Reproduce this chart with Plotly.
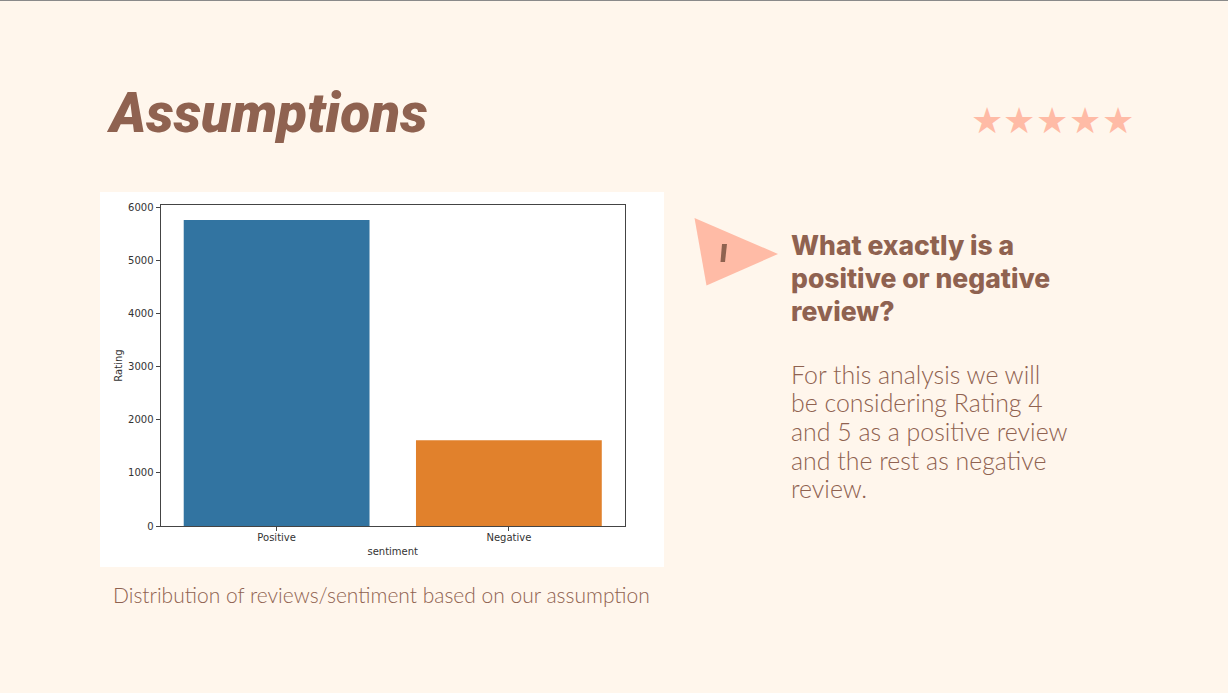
import plotly.graph_objects as go

W, H = 1228, 693
BG = "#FFF6EC"
BROWN = "#8F6250"
PEACH = "#FFBBA6"

categories = ["Positive", "Negative"]
values = [5760, 1615]
bar_colors = ["#3274A1", "#E1812C"]
y_ticks = [0, 1000, 2000, 3000, 4000, 5000, 6000]
y_max = 6040

title_text = "Assumptions"
stars_text = ["★", "★", "★", "★", "★"]
star_px = [987, 1019, 1052, 1085, 1118]
heading_lines = ["What exactly is a", "positive or negative", "review?"]
body_lines = ["For this analysis we will", "be considering Rating 4", "and 5 as a positive review",
              "and the rest as negative", "review."]
caption_text = "Distribution of reviews/sentiment based on our assumption"


def px(x):
    return x / W


def py(y):
    return 1 - y / H


fig = go.Figure(go.Bar(x=categories, y=values, width=0.8, marker=dict(color=bar_colors, line=dict(width=0))))


def label(x, y, text, size, color=BROWN, family="Lato", anchor="left", weight=400, style="normal"):
    fig.add_annotation(x=px(x), y=py(y), xref="paper", yref="paper", text=text, showarrow=False,
                       xanchor=anchor, yanchor="middle",
                       font=dict(size=size, color=color, family=family, weight=weight, style=style))


fig.add_shape(type="rect", xref="paper", yref="paper", x0=px(100), x1=px(664), y0=py(567), y1=py(192),
              fillcolor="white", line_width=0, layer="below")
fig.add_shape(type="line", xref="paper", yref="paper", x0=0, x1=1, y0=py(0.5), y1=py(0.5),
              line=dict(color="#8A8A8A", width=1))
fig.add_shape(type="path", xref="paper", yref="paper",
              path=f"M {px(694.5)} {py(218)} L {px(778)} {py(254)} L {px(706.5)} {py(285.5)} Z",
              fillcolor=PEACH, line_width=0)
fig.add_shape(type="path", xref="paper", yref="paper",
              path=f"M {px(722)} {py(244)} L {px(727)} {py(244)} L {px(725)} {py(262)} L {px(720.5)} {py(262)} Z",
              fillcolor=BROWN, line_width=0)

label(104, 113, title_text, 55, family="Roboto", weight=900, style="italic")
for x, s in zip(star_px, stars_text):
    label(x, 120, s, 36, color=PEACH, family="DejaVu Sans", anchor="center")
for i, line in enumerate(heading_lines):
    label(788.5, 245 + i * 33, line, 26.5, family="Inter", weight=800)
for i, line in enumerate(body_lines):
    label(788.5, 373.5 + i * 28.7, line, 24.9, family="Lato", weight=300)
label(110.5, 594, caption_text, 21, family="Lato", weight=300)

axis_font = dict(family="DejaVu Sans", size=10, color="#333333")
fig.update_layout(
    width=W, height=H, autosize=False, margin=dict(l=0, r=0, t=0, b=0, autoexpand=False),
    paper_bgcolor=BG, plot_bgcolor="white", showlegend=False,
    xaxis=dict(domain=[px(160.5), px(625)], type="category", range=[-0.5, 1.5], showgrid=False, zeroline=False,
               ticks="outside", ticklen=4, tickcolor="#444444", tickwidth=1, tickfont=axis_font,
               ticklabelstandoff=-2,
               showline=True, linecolor="#444444", linewidth=1, mirror=True,
               title=dict(text="sentiment", font=axis_font, standoff=5)),
    yaxis=dict(domain=[py(526), py(205)], range=[0, y_max], tickvals=y_ticks, showgrid=False, zeroline=False,
               ticks="outside", ticklen=4, tickcolor="#444444", tickwidth=1, tickfont=axis_font,
               showline=True, linecolor="#444444", linewidth=1, mirror=True,
               title=dict(text="Rating", font=axis_font, standoff=3)),
)
fig.write_html("out.html", post_script="document.body.style.margin='0';document.body.style.overflow='hidden';",
               config={"displayModeBar": False})
